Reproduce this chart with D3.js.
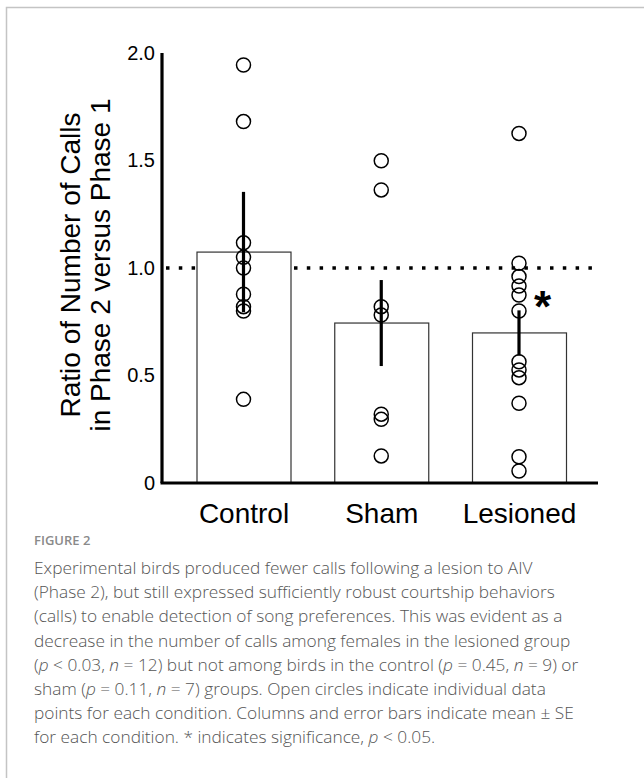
<!DOCTYPE html>
<html>
<head>
<meta charset="utf-8">
<script src="https://cdn.jsdelivr.net/npm/d3@7"></script>
<style>
  body { margin: 0; background: #fff; }
  svg { display: block; }
</style>
</head>
<body>
<div id="chart"></div>
<script>
// data
var groups = ['Control', 'Sham', 'Lesioned'];
var means = [1.074, 0.744, 0.698];
var errors = [0.28, 0.2, 0.105];
var controlPoints = [1.944, 1.681, 1.117, 1.05, 1.0, 0.878, 0.82, 0.80, 0.389];
var shamPoints = [1.499, 1.363, 0.82, 0.781, 0.32, 0.296, 0.126];
var lesionedPoints = [1.626, 1.022, 0.96, 0.916, 0.874, 0.80, 0.564, 0.526, 0.49, 0.371, 0.122, 0.056];
var yTicks = [0, 0.5, 1.0, 1.5, 2.0];
var refValue = 1.0;
var signifGroup = 'Lesioned';

var captionLines = [
  'Experimental birds produced fewer calls following a lesion to AIV',
  '(Phase 2), but still expressed sufficiently robust courtship behaviors',
  '(calls) to enable detection of song preferences. This was evident as a',
  'decrease in the number of calls among females in the lesioned group',
  '(_p_ < 0.03, _n_ = 12) but not among birds in the control (_p_ = 0.45, _n_ = 9) or',
  'sham (_p_ = 0.11, _n_ = 7) groups. Open circles indicate individual data',
  'points for each condition. Columns and error bars indicate mean \u00b1 SE',
  'for each condition. * indicates significance, _p_ < 0.05.'
];

var svgWidth = 644;
var svgHeight = 778;

var svg = d3.select('#chart')
  .append('svg')
  .attr('width', svgWidth)
  .attr('height', svgHeight);

// frame (left + top rules)
svg.append('path')
  .attr('d', 'M6.5,778 V7.5 H644')
  .attr('fill', 'none')
  .attr('stroke', '#c4c4c4')
  .attr('stroke-width', 1.5);

// scales
var xScale = d3.scalePoint()
  .domain(groups)
  .range([243.5, 519]);

var yScale = d3.scaleLinear()
  .domain([0, 2])
  .range([483, 53]);

var barWidth = 94;
var axisX = 162;

var table = groups.map(function(g, i) {
  return {
    group: g,
    mean: means[i],
    se: errors[i],
    points: [controlPoints, shamPoints, lesionedPoints][i]
  };
});

// bars
svg.selectAll('rect.bar')
  .data(table)
  .enter()
  .append('rect')
  .attr('class', 'bar')
  .attr('x', d => xScale(d.group) - barWidth / 2 + 0.5)
  .attr('y', d => yScale(d.mean))
  .attr('width', barWidth)
  .attr('height', d => yScale(0) - yScale(d.mean))
  .attr('fill', '#fff')
  .attr('stroke', '#333')
  .attr('stroke-width', 1.2);

// dotted reference line at 1.0 (hidden behind the control bar)
var refGroup = svg.insert('g', 'rect.bar');
refGroup.append('line')
  .attr('x1', axisX + 4)
  .attr('x2', 594)
  .attr('y1', yScale(refValue))
  .attr('y2', yScale(refValue))
  .attr('stroke', '#000')
  .attr('stroke-width', 3.5)
  .attr('stroke-dasharray', '3.5,9.3');

// individual points
table.forEach(function(d) {
  svg.append('g')
    .selectAll('circle')
    .data(d.points)
    .enter()
    .append('circle')
    .attr('cx', xScale(d.group))
    .attr('cy', v => yScale(v))
    .attr('r', 7)
    .attr('fill', '#fff')
    .attr('fill-opacity', 0)
    .attr('stroke', '#000')
    .attr('stroke-width', 1.5);
});

// error bars
svg.selectAll('line.err')
  .data(table)
  .enter()
  .append('line')
  .attr('class', 'err')
  .attr('x1', d => xScale(d.group))
  .attr('x2', d => xScale(d.group))
  .attr('y1', d => yScale(d.mean + d.se))
  .attr('y2', d => yScale(d.mean - d.se))
  .attr('stroke', '#000')
  .attr('stroke-width', 3.2);

// axes
var leftAxis = d3.axisLeft(yScale)
  .tickValues(yTicks)
  .tickSize(0)
  .tickPadding(7)
  .tickFormat(v => v === 0 ? '0' : d3.format('.1f')(v));

var yAxis = svg.append('g')
  .attr('transform', `translate(${axisX}, 0)`)
  .call(leftAxis);
yAxis.select('.domain')
  .attr('d', `M0,${yScale(2)}V${yScale(0)}`)
  .attr('stroke', '#000')
  .attr('stroke-width', 3.2);
yAxis.selectAll('text')
  .attr('font-family', 'Liberation Sans, Arial, sans-serif')
  .attr('font-size', '20px')
  .attr('fill', '#000');

var bottomAxis = d3.axisBottom(xScale)
  .tickSize(0)
  .tickPadding(20);

var xAxis = svg.append('g')
  .attr('transform', `translate(0, ${yScale(0)})`)
  .call(bottomAxis);
xAxis.select('.domain')
  .attr('d', `M${axisX - 1.5},0H598`)
  .attr('stroke', '#000')
  .attr('stroke-width', 3.2);
xAxis.selectAll('text')
  .attr('font-family', 'Liberation Sans, Arial, sans-serif')
  .attr('font-size', '28px')
  .attr('fill', '#000');

// significance marker
svg.append('text')
  .attr('x', xScale(signifGroup) + 15)
  .attr('y', 322)
  .attr('font-family', 'Liberation Sans, Arial, sans-serif')
  .attr('font-size', '44px')
  .attr('font-weight', 'bold')
  .attr('fill', '#000')
  .text('*');

// y axis title
var yTitle = svg.append('text')
  .attr('transform', 'translate(80, 265) rotate(-90)')
  .attr('text-anchor', 'middle')
  .attr('font-family', 'Liberation Sans, Arial, sans-serif')
  .attr('font-size', '28px')
  .attr('fill', '#000');
yTitle.append('tspan').attr('x', 0).attr('y', 0).text('Ratio of Number of Calls');
yTitle.append('tspan').attr('x', 0).attr('y', 30).text('in Phase 2 versus Phase 1');

// caption
svg.append('text')
  .attr('x', 34)
  .attr('y', 545)
  .attr('font-family', 'Open Sans, sans-serif')
  .attr('font-size', '13px')
  .attr('font-weight', 600)
  .attr('fill', '#8a8a8a')
  .text('FIGURE 2');

var caption = svg.append('text')
  .attr('font-family', 'Open Sans, sans-serif')
  .attr('font-size', '17.3px')
  .attr('font-weight', 300)
  .attr('fill', '#555');

captionLines.forEach(function(line, i) {
  var parts = line.split('_');
  parts.forEach(function(part, j) {
    var t = caption.append('tspan').text(part);
    if (j === 0) t.attr('x', 34).attr('y', 574 + i * 24.2);
    if (j % 2 === 1) t.attr('font-style', 'italic');
  });
});
</script>
</body>
</html>
